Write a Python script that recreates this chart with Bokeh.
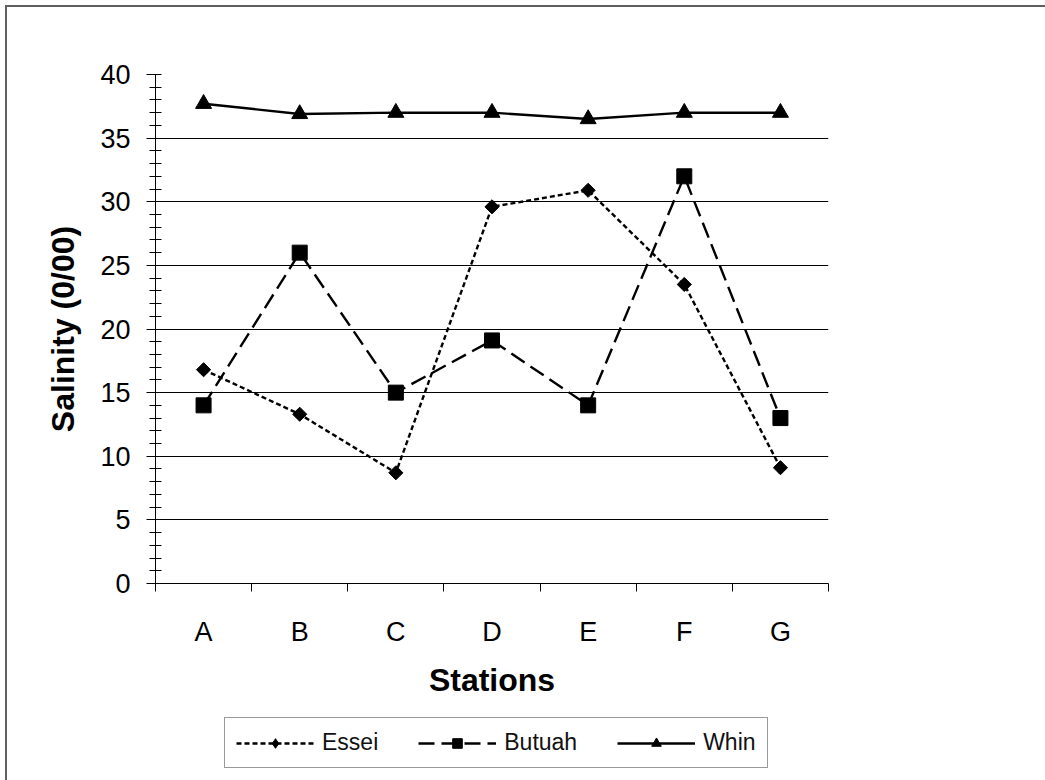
import math
from bokeh.plotting import figure
from bokeh.layouts import column
from bokeh.models import Range1d, FixedTicker, Legend, LegendItem, CustomJSTickFormatter
from bokeh.embed import file_html
from bokeh.resources import INLINE

stations = ["A", "B", "C", "D", "E", "F", "G"]
essei = [16.8, 13.3, 8.7, 29.6, 30.9, 23.5, 9.1]
butuah = [14.0, 26.0, 15.0, 19.1, 14.0, 32.0, 13.0]
whin = [37.7, 36.9, 37.0, 37.0, 36.5, 37.0, 37.0]
series_names = ["Essei", "Butuah", "Whin"]
y_ticks = [0, 5, 10, 15, 20, 25, 30, 35, 40]
y_minor = list(range(0, 41))

FONT = "Liberation Sans"

xpos = [i + 0.5 for i in range(len(stations))]
bounds = list(range(len(stations) + 1))

W = 1038
H1 = 693
H2 = 80

p = figure(width=W, height=H1, output_backend="svg", toolbar_location=None, tools="",
           x_range=Range1d(0, len(stations)), y_range=Range1d(0, 40),
           min_border_left=148, min_border_right=217, min_border_top=67, min_border_bottom=116,
           background_fill_color="white", border_fill_color="white")
p.outline_line_color = None

# x axis
p.xaxis.ticker = FixedTicker(ticks=xpos, minor_ticks=bounds)
p.xaxis.formatter = CustomJSTickFormatter(args=dict(labels=stations),
                                          code="const i = Math.floor(tick); return labels[i] || '';")
p.xaxis.major_tick_out = 0
p.xaxis.major_tick_in = 0
p.xaxis.minor_tick_out = 8
p.xaxis.minor_tick_in = 0
p.xaxis.minor_tick_line_color = "black"
p.xaxis.axis_line_color = "black"
p.xaxis.major_label_text_font = FONT
p.xaxis.major_label_text_font_size = "27px"
p.xaxis.major_label_text_color = "black"
p.xaxis.major_label_standoff = 25
p.xaxis.axis_label = "Stations"
p.xaxis.axis_label_text_font = FONT
p.xaxis.axis_label_text_font_size = "32px"
p.xaxis.axis_label_text_font_style = "bold"
p.xaxis.axis_label_text_color = "black"
p.xaxis.axis_label_standoff = 12

# y axis
p.yaxis.ticker = FixedTicker(ticks=y_ticks, minor_ticks=y_minor)
p.yaxis.major_tick_out = 9
p.yaxis.major_tick_in = 0
p.yaxis.minor_tick_out = 6
p.yaxis.minor_tick_in = 6
p.yaxis.major_tick_line_color = "black"
p.yaxis.minor_tick_line_color = "black"
p.yaxis.axis_line_color = "black"
p.yaxis.major_label_text_font = FONT
p.yaxis.major_label_text_font_size = "27px"
p.yaxis.major_label_text_color = "black"
p.yaxis.major_label_standoff = 16
p.yaxis.axis_label = "Salinity (0/00)"
p.yaxis.axis_label_text_font = FONT
p.yaxis.axis_label_text_font_size = "32px"
p.yaxis.axis_label_text_font_style = "bold"
p.yaxis.axis_label_text_color = "black"
p.yaxis.axis_label_standoff = 16

p.xgrid.visible = False
p.ygrid.ticker = FixedTicker(ticks=y_ticks)
p.ygrid.grid_line_color = "black"
p.ygrid.grid_line_width = 1.2

# series
p.line(xpos, essei, line_color="black", line_width=2.4, line_dash="5 3")
p.scatter(xpos, essei, marker="square", angle=math.pi / 4, size=10,
          fill_color="black", line_color="black")
p.line(xpos, butuah, line_color="black", line_width=2.4, line_dash="16 7")
p.scatter(xpos, butuah, marker="square", size=15, fill_color="black", line_color="black")
p.line(xpos, whin, line_color="black", line_width=2.4)
p.scatter(xpos, whin, marker="triangle", size=16, fill_color="black", line_color="black")

# legend strip (separate figure so the legend is not clipped by the main frame);
# its ranges are placed away from the data so only the legend shows
q = figure(width=W, height=H2, output_backend="svg", toolbar_location=None, tools="",
           x_axis_location=None, y_axis_location=None, min_border=0,
           x_range=Range1d(100, 101), y_range=Range1d(100, 101),
           background_fill_color="white", border_fill_color="white")
q.outline_line_color = None
q.xgrid.visible = False
q.ygrid.visible = False
styles = [("5 3", "diamond", 16), ("16 7", "square", 13), (None, "triangle", 15)]
items = []
for name, vals, (dash, mk, sz) in zip(series_names, [essei, butuah, whin], styles):
    kw = {} if dash is None else {"line_dash": dash}
    lr = q.line(xpos, vals, line_color="black", line_width=2.4, **kw)
    mr = q.scatter(xpos, vals, marker=mk, size=sz, fill_color="black", line_color="black")
    items.append(LegendItem(label=name, renderers=[lr, mr]))

legend = Legend(items=items, orientation="horizontal", location=(69, 12))
legend.glyph_width = 78
legend.glyph_height = 24
legend.label_standoff = 8
legend.spacing = 40
legend.padding = 11
legend.margin = 0
legend.label_text_font = FONT
legend.label_text_font_size = "23px"
legend.label_text_color = "#111111"
legend.border_line_color = "#333333"
legend.border_line_width = 1.5
legend.background_fill_color = "white"
legend.background_fill_alpha = 1
q.add_layout(legend, "center")

layout = column(p, q, spacing=0,
                styles={"margin": "5px 0 0 5px", "border-top": "2px solid #606060",
                        "border-left": "2px solid #606060"})

open("out.html", "w").write(file_html(layout, INLINE))
